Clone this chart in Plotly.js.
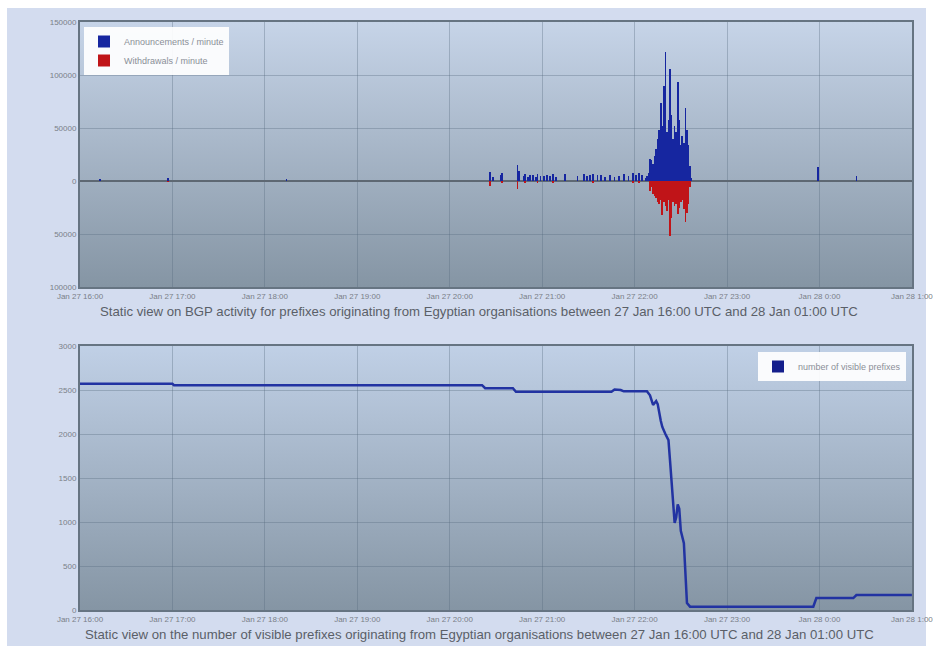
<!DOCTYPE html>
<html>
<head>
<meta charset="utf-8">
<script src="https://cdn.plot.ly/plotly-3.0.1.min.js"></script>
<style>
  html, body { margin:0; padding:0; background:#ffffff; overflow:hidden; }
  #bg { position:absolute; left:7px; top:8px; width:919px; height:638px; background:#d3dcef; }
  #chart { position:absolute; left:0; top:0; width:933px; height:652px; }
</style>
</head>
<body>
<div id="bg"></div>
<div id="chart"></div>
<script>
// ---------- DATA ----------
const announceTimes = [
  '2011-01-27 16:13','2011-01-27 16:57','2011-01-27 18:14',
  '2011-01-27 20:26','2011-01-27 20:28','2011-01-27 20:33','2011-01-27 20:34',
  '2011-01-27 20:44','2011-01-27 20:45','2011-01-27 20:48','2011-01-27 20:49',
  '2011-01-27 20:51','2011-01-27 20:52','2011-01-27 20:54','2011-01-27 20:56',
  '2011-01-27 20:57','2011-01-27 20:59','2011-01-27 21:01','2011-01-27 21:03',
  '2011-01-27 21:05','2011-01-27 21:07','2011-01-27 21:09','2011-01-27 21:15',
  '2011-01-27 21:23','2011-01-27 21:27','2011-01-27 21:29','2011-01-27 21:31',
  '2011-01-27 21:33','2011-01-27 21:36','2011-01-27 21:38','2011-01-27 21:41',
  '2011-01-27 21:44','2011-01-27 21:47','2011-01-27 21:50','2011-01-27 21:53',
  '2011-01-27 21:56','2011-01-27 21:59','2011-01-27 22:01','2011-01-27 22:03',
  '2011-01-27 22:05','2011-01-27 22:07','2011-01-27 22:08','2011-01-27 22:09',
  '2011-01-27 22:10','2011-01-27 22:11','2011-01-27 22:12','2011-01-27 22:13',
  '2011-01-27 22:14','2011-01-27 22:15','2011-01-27 22:16','2011-01-27 22:17',
  '2011-01-27 22:18','2011-01-27 22:19','2011-01-27 22:20','2011-01-27 22:21',
  '2011-01-27 22:22','2011-01-27 22:23','2011-01-27 22:24','2011-01-27 22:25',
  '2011-01-27 22:26','2011-01-27 22:27','2011-01-27 22:28','2011-01-27 22:29',
  '2011-01-27 22:30','2011-01-27 22:31','2011-01-27 22:32','2011-01-27 22:33',
  '2011-01-27 22:34','2011-01-27 22:35','2011-01-27 22:36','2011-01-27 22:37',
  '2011-01-27 23:59','2011-01-28 00:24'
];
const announceValues = [
  1500, 3000, 1500,
  8500, 4000, 6000, 7500,
  15000, 9000, 5000, 6500,
  4000, 6000, 5500, 3500,
  6500, 5000, 4500, 6000,
  5000, 6500, 4000, 7000,
  5000, 6500, 5000, 6000,
  7000, 5500, 6000, 4000,
  6000, 3500, 5000, 6500,
  4500, 7500, 6000, 8000,
  6000, 3000, 5000, 8000,
  21000, 20000, 16000, 24000,
  30000, 40000, 48000, 74000,
  52000, 90000, 122000, 46000,
  58000, 106000, 62000, 40000,
  52000, 46000, 93000, 58000,
  34000, 42000, 36000, 69000,
  48000, 34000, 14000, 3000,
  13500, 4500
];

const withdrawTimes = [
  '2011-01-27 16:57','2011-01-27 20:26','2011-01-27 20:34','2011-01-27 20:44',
  '2011-01-27 20:49','2011-01-27 20:57','2011-01-27 21:07','2011-01-27 21:33',
  '2011-01-27 21:59','2011-01-27 22:03',
  '2011-01-27 22:10','2011-01-27 22:11','2011-01-27 22:12','2011-01-27 22:13',
  '2011-01-27 22:14','2011-01-27 22:15','2011-01-27 22:16','2011-01-27 22:17',
  '2011-01-27 22:18','2011-01-27 22:19','2011-01-27 22:20','2011-01-27 22:21',
  '2011-01-27 22:22','2011-01-27 22:23','2011-01-27 22:24','2011-01-27 22:25',
  '2011-01-27 22:26','2011-01-27 22:27','2011-01-27 22:28','2011-01-27 22:29',
  '2011-01-27 22:30','2011-01-27 22:31','2011-01-27 22:32','2011-01-27 22:33',
  '2011-01-27 22:34','2011-01-27 22:35','2011-01-27 22:36'
];
const withdrawValues = [
  -1000, -5000, -2000, -8000,
  -1500, -1500, -1500, -1500,
  -2000, -2000,
  -9000, -6000, -12000, -14000,
  -16000, -20000, -22000, -18000,
  -32000, -20000, -24000, -28000,
  -18000, -52000, -35000, -20000,
  -24000, -22000, -31000, -25000,
  -20000, -18000, -26000, -39000,
  -30000, -22000, -6000
];

const prefixTimes = [
  '2011-01-27 16:00','2011-01-27 17:00','2011-01-27 17:01','2011-01-27 20:21',
  '2011-01-27 20:23','2011-01-27 20:41','2011-01-27 20:43','2011-01-27 21:45',
  '2011-01-27 21:47','2011-01-27 21:51','2011-01-27 21:53','2011-01-27 22:08',
  '2011-01-27 22:10','2011-01-27 22:12','2011-01-27 22:14','2011-01-27 22:15',
  '2011-01-27 22:17','2011-01-27 22:18','2011-01-27 22:20','2011-01-27 22:22',
  '2011-01-27 22:23','2011-01-27 22:24','2011-01-27 22:26','2011-01-27 22:27',
  '2011-01-27 22:28','2011-01-27 22:29','2011-01-27 22:30','2011-01-27 22:32',
  '2011-01-27 22:33','2011-01-27 22:34','2011-01-27 22:36','2011-01-27 23:56',
  '2011-01-27 23:58','2011-01-28 00:22','2011-01-28 00:24','2011-01-28 01:00'
];
const prefixCounts = [
  2570, 2570, 2555, 2555,
  2520, 2520, 2480, 2480,
  2505, 2500, 2485, 2485,
  2440, 2330, 2375, 2340,
  2150, 2080, 2000, 1930,
  1700, 1480, 990, 1050,
  1200, 1150, 900, 760,
  400, 80, 38, 38,
  136, 136, 170, 170
];

const xTickVals = [
  '2011-01-27 16:00','2011-01-27 17:00','2011-01-27 18:00','2011-01-27 19:00',
  '2011-01-27 20:00','2011-01-27 21:00','2011-01-27 22:00','2011-01-27 23:00',
  '2011-01-28 00:00','2011-01-28 01:00'
];
const xTickText = [
  'Jan 27 16:00','Jan 27 17:00','Jan 27 18:00','Jan 27 19:00','Jan 27 20:00',
  'Jan 27 21:00','Jan 27 22:00','Jan 27 23:00','Jan 28 0:00','Jan 28 1:00'
];
const bgpTickVals = [-100000, -50000, 0, 50000, 100000, 150000];
const bgpTickText = ['100000', '50000', '0', '50000', '100000', '150000'];

const title1 = 'Static view on BGP activity for prefixes originating from Egyptian organisations between 27 Jan 16:00 UTC and 28 Jan 01:00 UTC';
const title2 = 'Static view on the number of visible prefixes originating from Egyptian organisations between 27 Jan 16:00 UTC and 28 Jan 01:00 UTC';

// ---------- STYLE ----------
const W = 933, H = 652;
const px = v => v / W;
const py = v => 1 - v / H;
const dom1x = [px(80), px(912)];
const dom1y = [py(287), py(22)];
const dom2y = [py(610), py(346)];

function gradientURI(top, bottom) {
  const svg = '<svg xmlns="http://www.w3.org/2000/svg" width="100" height="100" viewBox="0 0 1 1" preserveAspectRatio="none">' +
    '<defs><linearGradient id="g" x1="0" y1="0" x2="0" y2="1">' +
    '<stop offset="0" stop-color="' + top + '"/><stop offset="1" stop-color="' + bottom + '"/>' +
    '</linearGradient></defs><rect x="0" y="0" width="1" height="1" fill="url(#g)"/></svg>';
  return 'data:image/svg+xml;charset=utf-8,' + encodeURIComponent(svg);
}

const tickFont = { family: 'Liberation Sans, Arial, sans-serif', size: 8, color: '#7a7f88' };
const legendFont = { family: 'Liberation Sans, Arial, sans-serif', size: 9, color: '#8a8f98' };
const titleFont = { family: 'Liberation Sans, Arial, sans-serif', size: 13.2, color: '#5a5f68' };
const gridColor = 'rgba(85,105,125,0.35)';
const borderColor = '#667482';

const traces = [
  {
    type: 'bar', name: 'Announcements / minute',
    x: announceTimes, y: announceValues, width: 66000,
    marker: { color: '#1626a0', line: { width: 0 } },
    xaxis: 'x', yaxis: 'y', legend: 'legend'
  },
  {
    type: 'bar', name: 'Withdrawals / minute',
    x: withdrawTimes, y: withdrawValues, width: 66000,
    marker: { color: '#c01418', line: { width: 0 } },
    xaxis: 'x', yaxis: 'y', legend: 'legend'
  },
  {
    type: 'scatter', mode: 'lines', name: 'number of visible prefixes',
    x: prefixTimes, y: prefixCounts,
    line: { color: '#2233a2', width: 2.5 },
    xaxis: 'x2', yaxis: 'y2', showlegend: false
  },
  {
    type: 'bar', name: 'number of visible prefixes',
    x: [null], y: [null],
    marker: { color: '#141e8c' },
    xaxis: 'x2', yaxis: 'y2', legend: 'legend2', showlegend: true
  }
];

const xCommon = {
  type: 'date',
  range: ['2011-01-27 16:00', '2011-01-28 01:00:05'],
  tickmode: 'array', tickvals: xTickVals, ticktext: xTickText,
  tickfont: tickFont, ticks: '', ticklen: 0, ticklabeloverflow: 'allow',
  showgrid: true, gridcolor: gridColor, gridwidth: 1,
  showline: true, linecolor: borderColor, linewidth: 2, mirror: true,
  zeroline: false, fixedrange: true
};

const layout = {
  width: W, height: H,
  margin: { l: 0, r: 0, t: 0, b: 0 },
  paper_bgcolor: 'rgba(0,0,0,0)',
  plot_bgcolor: 'rgba(0,0,0,0)',
  barmode: 'overlay',
  bargap: 0,
  showlegend: true,
  xaxis: Object.assign({}, xCommon, { domain: dom1x, anchor: 'y' }),
  yaxis: {
    domain: dom1y, anchor: 'x', range: [-100000, 150000],
    tickmode: 'array', tickvals: bgpTickVals, ticktext: bgpTickText,
    tickfont: tickFont, ticks: '', showgrid: true, gridcolor: gridColor,
    showline: true, linecolor: borderColor, linewidth: 2, mirror: true,
    zeroline: true, zerolinecolor: '#5e6873', zerolinewidth: 2,
    fixedrange: true
  },
  xaxis2: Object.assign({}, xCommon, { domain: dom1x, anchor: 'y2' }),
  yaxis2: {
    domain: dom2y, anchor: 'x2', range: [0, 3000],
    tickmode: 'linear', tick0: 0, dtick: 500,
    tickfont: tickFont, ticks: '', showgrid: true, gridcolor: gridColor,
    showline: true, linecolor: borderColor, linewidth: 2, mirror: true,
    zeroline: false, fixedrange: true
  },
  legend: {
    x: px(84), y: py(27), xanchor: 'left', yanchor: 'top',
    bgcolor: 'rgba(255,255,255,0.92)', borderwidth: 0,
    font: legendFont, tracegroupgap: 0, itemwidth: 30
  },
  legend2: {
    x: px(906), y: py(352), xanchor: 'right', yanchor: 'top',
    bgcolor: 'rgba(255,255,255,0.92)', borderwidth: 0,
    font: legendFont, itemwidth: 30
  },
  images: [
    { source: gradientURI('#c6d4e8', '#8595a4'), xref: 'paper', yref: 'paper',
      x: dom1x[0], y: dom1y[1], sizex: dom1x[1] - dom1x[0], sizey: dom1y[1] - dom1y[0],
      xanchor: 'left', yanchor: 'top', sizing: 'stretch', layer: 'below' },
    { source: gradientURI('#c0d0e6', '#8595a4'), xref: 'paper', yref: 'paper',
      x: dom1x[0], y: dom2y[1], sizex: dom1x[1] - dom1x[0], sizey: dom2y[1] - dom2y[0],
      xanchor: 'left', yanchor: 'top', sizing: 'stretch', layer: 'below' }
  ],
  annotations: [
    { text: title1, xref: 'paper', yref: 'paper', x: px(479), y: py(311),
      xanchor: 'center', yanchor: 'middle', showarrow: false, font: titleFont },
    { text: title2, xref: 'paper', yref: 'paper', x: px(480), y: py(634),
      xanchor: 'center', yanchor: 'middle', showarrow: false, font: titleFont }
  ]
};

Plotly.newPlot('chart', traces, layout, { displayModeBar: false, staticPlot: true });
</script>
</body>
</html>
